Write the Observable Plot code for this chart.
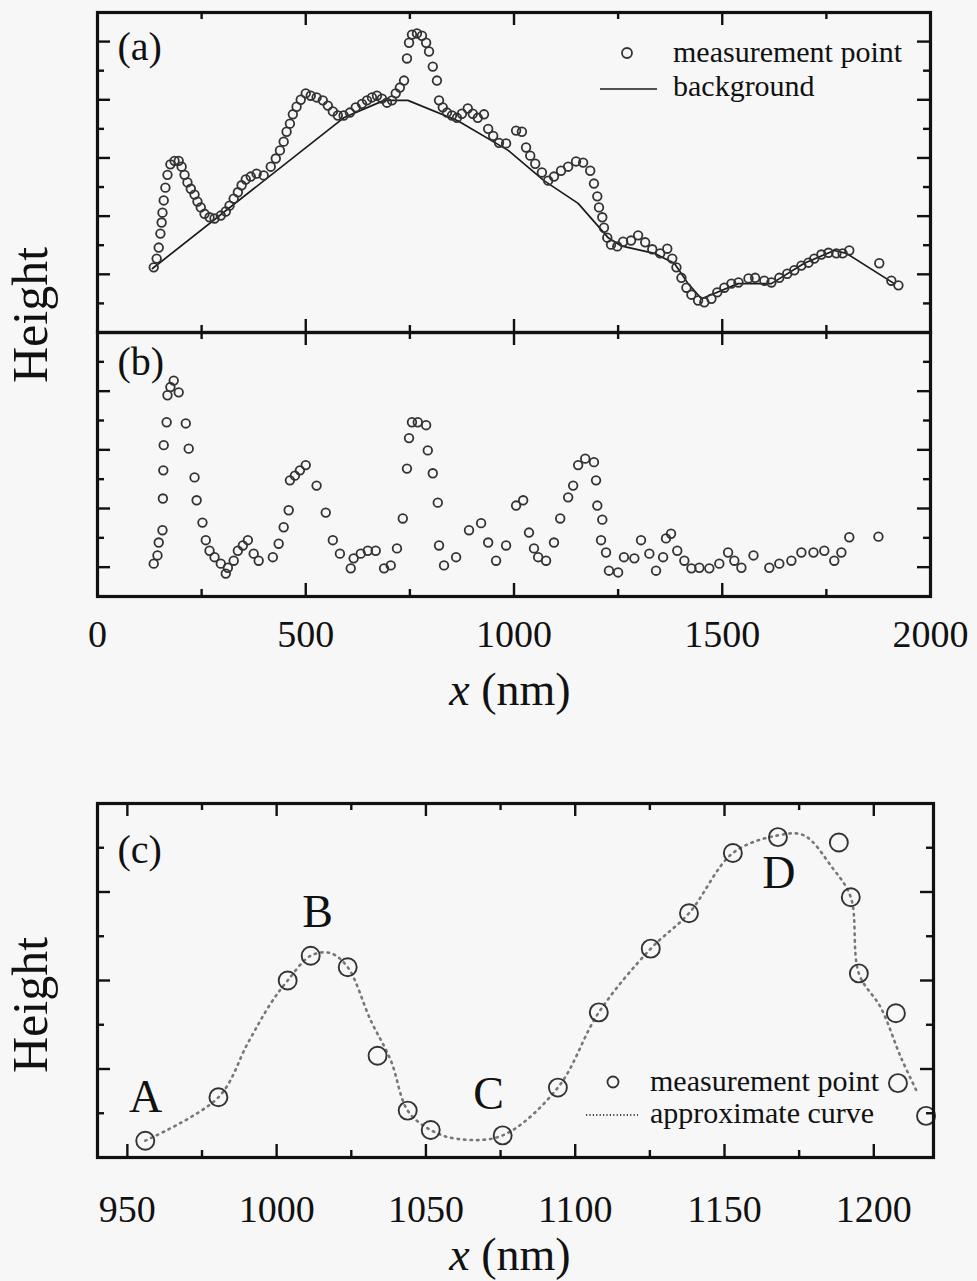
<!DOCTYPE html>
<html>
<head>
<meta charset="utf-8">
<script src="https://cdn.jsdelivr.net/npm/d3@7"></script>
<script src="https://cdn.jsdelivr.net/npm/@observablehq/plot@0.6"></script>
<style>
  html, body { margin: 0; padding: 0; background: #f7f7f7; }
  #root { position: relative; width: 977px; height: 1281px; overflow: hidden;
          font-family: "Liberation Serif", "Times New Roman", serif; color: #111; }
  #root svg { position: absolute; left: 0; }
  #root svg text { font-family: "Liberation Serif", "Times New Roman", serif !important; font-variant: normal !important; }
  .lab { position: absolute; white-space: nowrap; line-height: 1; }
</style>
</head>
<body>
<div id="root"></div>
<script>
// ---------- DATA ----------
// Panel (a): measured height profile (x in nm, height in arbitrary units)
const aX = [135,142,147,151,154,156,159,163,168,175,
  185,195,202,209,216,224,233,240,248,257,
  269,281,296,308,317,327,337,346,356,368,
  382,399,416,428,438,447,454,462,469,478,
  488,500,512,526,541,553,565,577,591,606,
  620,635,647,659,671,683,695,707,716,726,
  736,743,748,755,767,779,789,796,805,815,
  820,829,839,851,863,875,889,901,913,928,
  938,950,964,981,1005,1019,1029,1039,1051,1067,
  1082,1096,1113,1130,1149,1166,1183,1192,1200,1204,
  1212,1216,1224,1233,1248,1262,1281,1298,1315,1332,
  1351,1368,1380,1390,1402,1414,1426,1442,1457,1474,
  1488,1505,1522,1539,1563,1579,1601,1618,1637,1656,
  1673,1690,1707,1721,1738,1755,1774,1789,1805,1877,
  1906,1923];
const aY = [1.12,1.27,1.46,1.70,1.89,2.06,2.27,2.49,2.71,2.89,
  2.95,2.95,2.85,2.71,2.58,2.47,2.37,2.25,2.15,2.04,
  1.98,1.96,2.01,2.08,2.18,2.30,2.41,2.53,2.63,2.68,
  2.73,2.70,2.85,2.99,3.13,3.28,3.45,3.59,3.75,3.88,
  4.00,4.11,4.07,4.04,3.99,3.90,3.80,3.73,3.73,3.78,
  3.87,3.93,3.99,4.04,4.07,4.02,3.95,3.99,4.11,4.21,
  4.33,4.71,4.98,5.12,5.14,5.10,4.98,4.83,4.57,4.33,
  3.99,3.87,3.78,3.73,3.69,3.76,3.85,3.76,3.69,3.75,
  3.50,3.38,3.26,3.25,3.47,3.45,3.18,3.04,2.90,2.75,
  2.61,2.68,2.78,2.85,2.94,2.92,2.78,2.56,2.34,2.15,
  1.98,1.80,1.63,1.51,1.48,1.56,1.58,1.67,1.55,1.43,
  1.36,1.44,1.27,1.12,0.94,0.77,0.65,0.55,0.52,0.58,
  0.69,0.77,0.84,0.86,0.93,0.94,0.89,0.86,0.94,1.01,
  1.07,1.15,1.20,1.27,1.34,1.37,1.36,1.36,1.41,1.19,
  0.89,0.81];

// Panel (a): background line
const bgX = [132,591,688,745,865,986,1072,1154,1226,1257,1337,1385,1418,1450,1481,1538,1618,1697,1769,1798,1913];
const bgY = [1.10,3.69,3.99,3.99,3.64,3.13,2.61,2.22,1.63,1.49,1.36,1.19,0.84,0.58,0.67,0.84,0.84,1.19,1.41,1.36,0.84];

// Panel (b): height after background subtraction
const bX = [135,144,147,156,157,158,159,166,168,175,
  183,195,212,219,233,238,252,260,269,281,
  296,308,313,327,337,349,361,375,387,421,
  435,447,459,462,474,486,500,526,548,565,
  582,608,615,632,649,668,688,704,719,733,
  743,748,755,769,789,793,805,817,820,832,
  861,892,921,938,957,981,1005,1022,1036,1048,
  1058,1077,1096,1111,1130,1142,1154,1171,1192,1197,
  1200,1212,1209,1221,1228,1250,1264,1289,1305,1325,
  1341,1358,1365,1377,1392,1409,1426,1445,1469,1493,
  1514,1529,1546,1575,1613,1637,1666,1690,1719,1745,
  1769,1786,1805,1875];
const bY = [0.56,0.70,0.92,1.13,1.67,2.15,2.58,2.97,3.43,3.57,
  3.68,3.48,2.95,2.52,2.03,1.64,1.26,0.96,0.78,0.67,
  0.56,0.39,0.49,0.61,0.78,0.87,0.96,0.73,0.61,0.67,
  0.90,1.18,1.47,1.98,2.06,2.15,2.24,1.89,1.43,0.96,
  0.73,0.48,0.65,0.73,0.78,0.78,0.48,0.53,0.82,1.33,
  2.18,2.70,2.97,2.97,2.92,2.49,2.10,1.60,0.87,0.53,
  0.67,1.13,1.25,0.92,0.61,0.87,1.55,1.64,1.09,0.82,
  0.67,0.61,0.92,1.33,1.69,1.89,2.24,2.35,2.29,1.98,
  1.55,1.31,0.96,0.75,0.44,0.41,0.67,0.65,0.96,0.73,
  0.44,0.67,0.99,1.07,0.78,0.61,0.48,0.49,0.48,0.56,
  0.75,0.61,0.49,0.70,0.49,0.56,0.61,0.75,0.75,0.78,
  0.61,0.75,1.01,1.02];

// Panel (c): zoomed measurement points
const cX = [956,980.5,1003.7,1011.4,1023.8,1033.8,1043.9,1051.6,1075.7,1094.2,1107.9,1125.3,1138.1,1152.8,1167.9,1188.3,1192.3,1195.0,1207.4,1208.1,1217.5];
const cY = [0.19,0.68,2.00,2.28,2.15,1.15,0.53,0.31,0.25,0.79,1.64,2.36,2.76,3.44,3.62,3.56,2.94,2.08,1.63,0.84,0.47];

// Panel (c): approximate curve
const curveX = [956,980.5,990.3,998,1003.7,1011.4,1018,1023.8,1031.5,1038.2,1043.9,1051.6,1060.6,1075.7,1094.2,1107.9,1125.3,1138.1,1152.8,1167.9,1176.6,1186,1192.3,1195,1202.4,1209.1,1214.8];
const curveY = [0.19,0.68,1.29,1.74,2.00,2.28,2.31,2.15,1.55,1.10,0.53,0.31,0.21,0.25,0.79,1.64,2.36,2.76,3.44,3.64,3.64,3.28,2.94,2.08,1.69,1.13,0.72];

// Axis ticks
const xTicksTop = [0,500,1000,1500,2000];
const xMajorTop = [500,1000,1500];
const xMinorTop = [250,750,1250,1750];
const yMajorA = [1,2,3,4,5];
const yMinorA = [0.5,1.5,2.5,3.5,4.5];
const yMajorB = [0.5,1.5,2.5,3.5];
const yMinorB = [1,2,3,4];
const xTicksC = [950,1000,1050,1100,1150,1200];
const xMinorC = [975,1025,1075,1125,1175];
const yMajorC = [1,2,3];
const yMinorC = [0.5,1.5,2.5,3.5];

// Annotations
const panelLabels = [
  {panel: "a", text: "(a)", x: 48, y: 4.90},
  {panel: "b", text: "(b)", x: 48, y: 3.99},
  {panel: "c", text: "(c)", x: 946.7, y: 3.47}
];
const pointLabels = [
  {text: "A", x: 956.1, y: 0.68},
  {text: "B", x: 1013.7, y: 2.77},
  {text: "C", x: 1071.0, y: 0.72},
  {text: "D", x: 1168.2, y: 3.21}
];

// ---------- DRAWING ----------
const FONT = '"Liberation Serif","Times New Roman",serif';
const INK = "#111";
const toRows = (xs, ys) => xs.map((x, i) => ({x, y: ys[i]}));

function frameTicks(W, H, xMaj, xMin, yMaj, yMin) {
  const L = 13, S = 7, sw = 2.4;
  const o = {stroke: INK, strokeWidth: sw};
  return [
    Plot.tickX(xMaj, {x: d => d, insetTop: H - L, ...o}),
    Plot.tickX(xMaj, {x: d => d, insetBottom: H - L, ...o}),
    Plot.tickX(xMin, {x: d => d, insetTop: H - S, ...o}),
    Plot.tickX(xMin, {x: d => d, insetBottom: H - S, ...o}),
    Plot.tickY(yMaj, {y: d => d, insetRight: W - L, ...o}),
    Plot.tickY(yMaj, {y: d => d, insetLeft: W - L, ...o}),
    Plot.tickY(yMin, {y: d => d, insetRight: W - S, ...o}),
    Plot.tickY(yMin, {y: d => d, insetLeft: W - S, ...o}),
    Plot.frame({stroke: INK, strokeWidth: 3.2})
  ];
}

const root = document.getElementById("root");
function place(svg, top) { svg.style.top = top + "px"; root.appendChild(svg); }
const svgStyle = (size) => `background: transparent; font-family: ${FONT}; font-size: ${size}px; color: ${INK}; overflow: visible;`;

// Panel (a)
{
  const W = 977 - 97 - 47, H = 320;
  const svg = Plot.plot({
    width: 977, height: 340, marginLeft: 97, marginRight: 47, marginTop: 12, marginBottom: 8,
    x: {domain: [0, 2000], axis: null},
    y: {domain: [0, 5.5], axis: null},
    style: svgStyle(38),
    marks: [
      Plot.line(toRows(bgX, bgY), {x: "x", y: "y", stroke: "#1a1a1a", strokeWidth: 1.7}),
      Plot.dot(toRows(aX, aY), {x: "x", y: "y", r: 4.3, stroke: "#333", strokeWidth: 1.8, fill: "none"}),
      Plot.text(panelLabels.filter(d => d.panel === "a"), {x: "x", y: "y", text: "text", fontSize: 40, textAnchor: "start", fill: INK}),
      ...frameTicks(W, H, xMajorTop, xMinorTop, yMajorA, yMinorA)
    ]
  });
  place(svg, 0);
}

// Panel (b)
{
  const W = 977 - 97 - 47, H = 264;
  const svg = Plot.plot({
    width: 977, height: 400, marginLeft: 97, marginRight: 47, marginTop: 10, marginBottom: 126,
    x: {domain: [0, 2000], ticks: xTicksTop, tickSize: 0, tickPadding: 24, tickFormat: d => String(d), label: null},
    y: {domain: [0, 4.5], axis: null},
    style: svgStyle(38),
    marks: [
      Plot.dot(toRows(bX, bY), {x: "x", y: "y", r: 4.3, stroke: "#333", strokeWidth: 1.8, fill: "none"}),
      Plot.text(panelLabels.filter(d => d.panel === "b"), {x: "x", y: "y", text: "text", fontSize: 40, textAnchor: "start", fill: INK}),
      ...frameTicks(W, H, xMajorTop, xMinorTop, yMajorB, yMinorB)
    ]
  });
  place(svg, 322);
}

// Panel (c)
{
  const W = 977 - 97 - 44, H = 354;
  const svg = Plot.plot({
    width: 977, height: 491, marginLeft: 97, marginRight: 44, marginTop: 13, marginBottom: 124,
    x: {domain: [940, 1220], ticks: xTicksC, tickSize: 0, tickPadding: 38, tickFormat: d => String(d), label: null},
    y: {domain: [0, 4], axis: null},
    style: svgStyle(38),
    marks: [
      Plot.line(toRows(curveX, curveY), {x: "x", y: "y", curve: "catmull-rom", stroke: "#777", strokeWidth: 2.6, strokeDasharray: "1.5,5", strokeLinecap: "round"}),
      Plot.dot(toRows(cX, cY), {x: "x", y: "y", r: 9, stroke: "#333", strokeWidth: 1.9, fill: "none"}),
      Plot.text(panelLabels.filter(d => d.panel === "c"), {x: "x", y: "y", text: "text", fontSize: 40, textAnchor: "start", fill: INK}),
      Plot.text(pointLabels, {x: "x", y: "y", text: "text", fontSize: 46, fill: INK}),
      ...frameTicks(W, H, xTicksC, xMinorC, yMajorC, yMinorC)
    ]
  });
  place(svg, 790);
}

// ---------- Axis titles and legends (HTML) ----------
function label(html, left, top, size, extra = "") {
  const d = document.createElement("div");
  d.className = "lab";
  d.innerHTML = html;
  d.style.cssText += `left:${left}px;top:${top}px;font-size:${size}px;${extra}`;
  root.appendChild(d);
  return d;
}
// y-axis titles (rotated), centred
label("Height", 30, 315, 50, "transform:translate(-50%,-50%) rotate(-90deg);");
label("Height", 30, 1005, 50, "transform:translate(-50%,-50%) rotate(-90deg);");
// x-axis titles
label("<i>x</i> (nm)", 510, 690, 46, "transform:translate(-50%,-50%);");
label("<i>x</i> (nm)", 510, 1255, 46, "transform:translate(-50%,-50%);");

// Legend (a)
label('<svg width="14" height="14" style="position:static"><circle cx="7" cy="7" r="5" fill="none" stroke="#333" stroke-width="1.8"/></svg>', 620, 46, 14);
label("measurement point", 673, 53, 30, "transform:translateY(-55%);");
label('<svg width="60" height="6" style="position:static"><line x1="0" y1="3" x2="57" y2="3" stroke="#1a1a1a" stroke-width="1.7"/></svg>', 600, 86, 6);
label("background", 673, 87, 30, "transform:translateY(-55%);");

// Legend (c)
label('<svg width="14" height="14" style="position:static"><circle cx="7" cy="7" r="5.5" fill="none" stroke="#333" stroke-width="1.8"/></svg>', 606, 1075, 14);
label("measurement point", 650, 1082, 30, "transform:translateY(-55%);");
label('<svg width="56" height="6" style="position:static"><line x1="1" y1="3" x2="53" y2="3" stroke="#444" stroke-width="2.2" stroke-dasharray="1.2,2.2"/></svg>', 585, 1112, 6);
label("approximate curve", 650, 1114, 30, "transform:translateY(-55%);");
</script>
</body>
</html>
